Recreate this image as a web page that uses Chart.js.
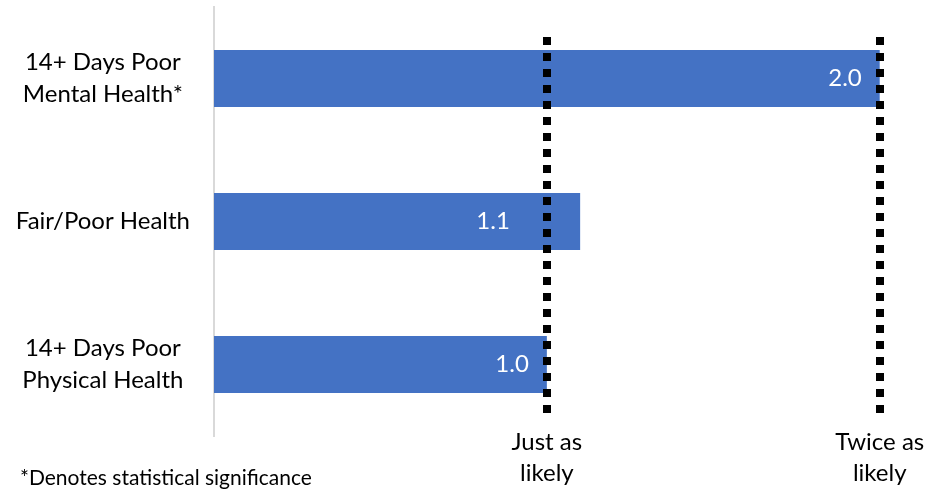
<!DOCTYPE html>
<html>
<head>
<meta charset="utf-8">
<script src="https://cdn.jsdelivr.net/npm/chart.js@4"></script>
<style>
  html, body { margin: 0; padding: 0; background: #fff; }
  #wrap { width: 929px; height: 491px; position: relative; }
</style>
</head>
<body>
<div id="wrap"><canvas id="myChart"></canvas></div>
<script>
const categories = [["14+ Days Poor", "Mental Health*"], "Fair/Poor Health", ["14+ Days Poor", "Physical Health"]];
const values = [2.0, 1.1, 1.0];
const refValues = [1, 2];
const refLabels = [["Just as", "likely"], ["Twice as", "likely"]];
const footnote = "*Denotes statistical significance";

const FONT = "Lato, 'Open Sans', sans-serif";

// dotted reference lines, their labels, bar value labels and the footnote
const overlay = {
  id: "overlay",
  afterDatasetsDraw(chart) {
    const ctx = chart.ctx;
    const x = chart.scales.x;
    const area = chart.chartArea;
    ctx.save();

    // value labels inside the bar end, kept clear of the reference lines
    const meta = chart.getDatasetMeta(0);
    ctx.fillStyle = "#ffffff";
    ctx.font = "24px " + FONT;
    ctx.textAlign = "right";
    ctx.textBaseline = "middle";
    meta.data.forEach((bar, i) => {
      let right = bar.x - 18;
      const w = ctx.measureText(values[i].toFixed(1)).width;
      refValues.forEach((v) => {
        const lx = x.getPixelForValue(v);
        if (right - w < lx + 4 && right > lx - 4) right = lx - 37;
      });
      ctx.fillText(values[i].toFixed(1), right, bar.y);
    });

    // dotted lines
    ctx.strokeStyle = "#000000";
    ctx.lineWidth = 8;
    ctx.setLineDash([8, 8]);
    ctx.lineCap = "butt";
    refValues.forEach((v) => {
      const lx = Math.round(x.getPixelForValue(v));
      ctx.beginPath();
      ctx.moveTo(lx, area.top + 30);
      ctx.lineTo(lx, area.bottom - 22);
      ctx.stroke();
    });
    ctx.setLineDash([]);

    // labels under the lines (drawn here so they can sit a bit above the axis box)
    ctx.fillStyle = "#000000";
    ctx.font = "24px " + FONT;
    ctx.textAlign = "center";
    ctx.textBaseline = "alphabetic";
    refValues.forEach((v, i) => {
      const lx = x.getPixelForValue(v);
      refLabels[i].forEach((line, j) => {
        ctx.fillText(line, lx, area.bottom + 14 + j * 31);
      });
    });

    ctx.font = "21px " + FONT;
    ctx.textAlign = "left";
    ctx.fillText(footnote, 20, 485);
    ctx.restore();
  }
};

new Chart(document.getElementById("myChart"), {
  type: "bar",
  data: {
    labels: categories,
    datasets: [{
      data: values,
      backgroundColor: "#4472C4",
      barPercentage: 0.4,
      categoryPercentage: 1.0
    }]
  },
  options: {
    indexAxis: "y",
    responsive: true,
    maintainAspectRatio: false,
    animation: false,
    layout: { padding: { top: 7, left: 0, right: 16, bottom: 0 } },
    plugins: { legend: { display: false }, tooltip: { enabled: false } },
    scales: {
      x: {
        min: 0,
        max: 2.1,
        grid: { display: false, drawTicks: false },
        border: { display: false },
        ticks: { display: false },
        afterFit: (axis) => {
          axis.height = 55;
          axis.paddingLeft = 0;
          axis.paddingRight = 0;
        }
      },
      y: {
        grid: { display: false, drawTicks: false },
        border: { display: true, color: "#d9d9d9", width: 2 },
        afterFit: (axis) => {
          axis.width = 214;
          axis.paddingTop = 0;
          axis.paddingBottom = 0;
        },
        ticks: {
          color: "#000000",
          padding: 24,
          crossAlign: "center",
          font: { family: FONT, size: 24, lineHeight: 1.33 }
        }
      }
    }
  },
  plugins: [overlay]
});
</script>
</body>
</html>
